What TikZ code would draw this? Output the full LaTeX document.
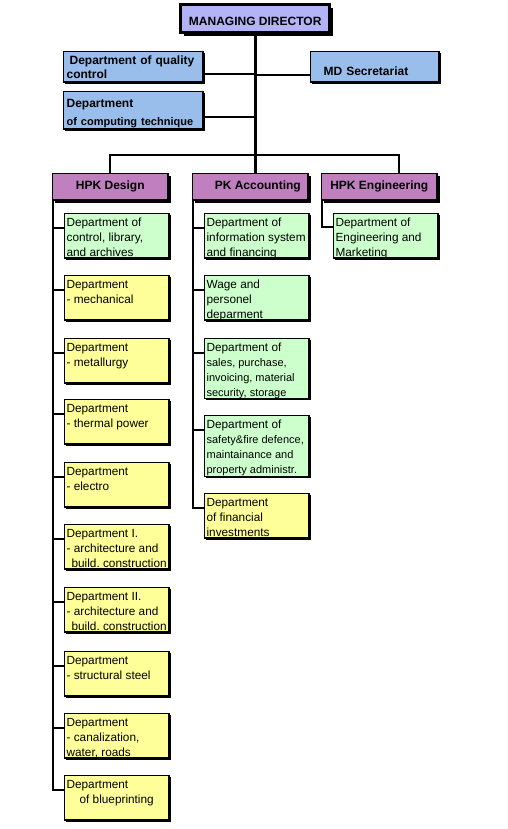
\documentclass[tikz,border=0pt]{standalone}
\usepackage{fontspec}
\setmainfont{Liberation Sans}
\usetikzlibrary{shadows,positioning}

\definecolor{mdblue}{HTML}{B3B3F7}
\definecolor{staffblue}{HTML}{99BEEB}
\definecolor{divpurple}{HTML}{C080C0}
\definecolor{deptgreen}{HTML}{CCFFCC}
\definecolor{deptyellow}{HTML}{FFFF99}

% top aligned text of a department box
\newcommand{\depttext}[2][40.5pt]{\parbox[c][#1][t]{100.5pt}{\raggedright\rule{0pt}{10.5pt}#2}}
\newcommand{\minorsize}{\fontsize{11}{15}\selectfont}

\begin{document}
\begin{tikzpicture}[x=1pt, y=-1pt,
  link/.style={line width=2.2pt},
  mdbox/.style={draw, line width=3pt, fill=mdblue, minimum width=149.3pt,
                minimum height=28.5pt, inner sep=2pt,
                font=\bfseries\fontsize{12}{14}\selectfont,
                drop shadow={shadow xshift=3.2pt, shadow yshift=-3.2pt, fill=black, opacity=1}},
  staff/.style={draw, line width=1.6pt, fill=staffblue, anchor=north west,
                align=left, text width=133.4pt, minimum height=30.4pt,
                inner xsep=3pt, inner ysep=0.5pt,
                font=\bfseries\fontsize{12}{14}\selectfont,
                drop shadow={shadow xshift=1.8pt, shadow yshift=-1.8pt, fill=black, opacity=1}},
  division/.style={draw, line width=1.6pt, fill=divpurple, anchor=north west,
                minimum width=115.4pt, minimum height=26.4pt, inner sep=2pt,
                font=\bfseries\fontsize{12}{14}\selectfont,
                drop shadow={shadow xshift=2.8pt, shadow yshift=-2.8pt, fill=black, opacity=1}},
  dept/.style={draw, line width=1.6pt, anchor=north west, inner sep=2pt,
                font=\fontsize{11.8}{15}\selectfont,
                drop shadow={shadow xshift=1.5pt, shadow yshift=-1.5pt, fill=black, opacity=1}}]

  \useasboundingbox (0,0) rectangle (507,829);

  % ---- Top management ----
  \node[mdbox] (md) at (255.2,18.75) {\rule{0pt}{13pt}MANAGING DIRECTOR};
  \node[staff] (qc) at (62.8,50.8) {\hspace*{3pt}Department of quality\\control};
  \node[staff, minimum height=37.4pt] (ct) at (62.8,90.8)
    {\rule{0pt}{15.3pt}Department\\[4pt]{\fontsize{11}{14}\selectfont of computing technique}};
  \node[staff, text width=122.4pt] (sec) at (309.8,50.8) {\rule{0pt}{17pt}\hspace*{10pt}MD Secretariat};

  % ---- Divisions ----
  \node[division] (hd) at (51.8,172.8)  {HPK Design};
  \node[division] (pk) at (191.8,172.8) {\hspace*{15pt}PK Accounting};
  \node[division] (he) at (320.8,172.8) {HPK Engineering};

  % ---- HPK Design departments ----
  \node[dept, fill=deptgreen]  (d1)  at (63.8,212.8) {\depttext{Department of\\control, library,\\and archives}};
  \node[dept, fill=deptyellow] (d2)  at (63.8,274.8) {\depttext{Department\\- mechanical}};
  \node[dept, fill=deptyellow] (d3)  at (63.8,337.8) {\depttext{Department\\- metallurgy}};
  \node[dept, fill=deptyellow] (d4)  at (63.8,398.8) {\depttext{Department\\- thermal power}};
  \node[dept, fill=deptyellow] (d5)  at (63.8,461.8) {\depttext{Department\\- electro}};
  \node[dept, fill=deptyellow] (d6)  at (63.8,523.8) {\depttext{Department I.\\- architecture and\\\hspace*{5pt}build.~construction}};
  \node[dept, fill=deptyellow] (d7)  at (63.8,586.8) {\depttext{Department II.\\- architecture and\\\hspace*{5pt}build.~construction}};
  \node[dept, fill=deptyellow] (d8)  at (63.8,650.8) {\depttext{Department\\- structural steel}};
  \node[dept, fill=deptyellow] (d9)  at (63.8,712.8) {\depttext{Department\\- canalization,\\water, roads}};
  \node[dept, fill=deptyellow] (d10) at (63.8,774.8) {\depttext{Department\\\hspace*{13pt}of blueprinting}};

  % ---- PK Accounting departments ----
  \node[dept, fill=deptgreen]  (a1) at (203.8,212.8) {\depttext{Department of\\information~system\\and financing}};
  \node[dept, fill=deptgreen]  (a2) at (203.8,274.8) {\depttext{Wage and\\personel\\deparment}};
  \node[dept, fill=deptgreen]  (a3) at (203.8,337.8)
    {\depttext[55.7pt]{Department of\\{\minorsize sales, purchase,\\invoicing, material\\security, storage}}};
  \node[dept, fill=deptgreen]  (a4) at (203.8,414.8)
    {\depttext[56.7pt]{Department of\\{\minorsize safety\&fire~defence,\\maintainance and\\property administr.}}};
  \node[dept, fill=deptyellow] (a5) at (203.8,492.8) {\depttext{Department\\of financial\\investments}};

  % ---- HPK Engineering department ----
  \node[dept, fill=deptgreen]  (e1) at (332.8,212.8) {\depttext{Department of\\Engineering and\\Marketing}};

  % ---- Trunk and staff links ----
  \draw[link, line width=2.6pt] (md.south) -- (md.south |- pk.north);
  \draw[link] ([yshift=-7pt]qc.east) -| (md.south);
  \draw[link] ([yshift=-6.5pt]ct.east) -| (md.south);
  \draw[link] ([yshift=-8pt]sec.west) -| (md.south);

  % ---- Bar to divisions ----
  \draw[link] (hd.north) -- ++(0,-17.8) -| ([xshift=19.5pt]he.north);

  % ---- Spines to departments ----
  \foreach \i in {1,...,10}
    \draw[link] ([xshift=1.5pt]hd.south west) |- ([yshift=-15pt]d\i.north west);
  \foreach \i in {1,...,5}
    \draw[link] ([xshift=1.5pt]pk.south west) |- ([yshift=-15pt]a\i.north west);
  \draw[link] ([xshift=1.5pt]he.south west) |- ([yshift=-14pt]e1.north west);
\end{tikzpicture}
\end{document}
